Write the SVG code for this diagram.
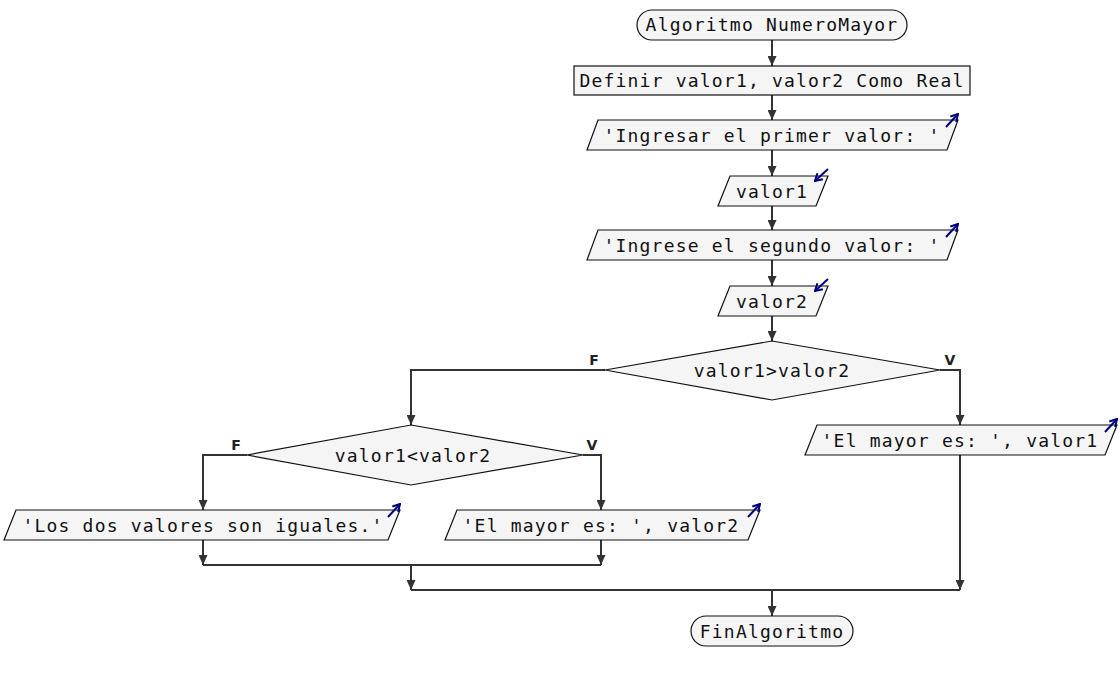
<svg xmlns="http://www.w3.org/2000/svg" width="1120" height="680" viewBox="0 0 1120 680">
<style>
.box{fill:#f5f5f5;stroke:#111;stroke-width:1.2}
.t{font-family:"DejaVu Sans Mono","Liberation Mono",monospace;font-size:18px;letter-spacing:1.2px;fill:#111;text-anchor:middle}
.c{fill:none;stroke:#333;stroke-width:2}
.lbl{font-family:"DejaVu Sans","Liberation Sans",sans-serif;font-size:14px;font-weight:bold;fill:#222;text-anchor:middle}
.ic{fill:none;stroke:#000080;stroke-width:2}
</style>
<defs>
<marker id="ah" markerUnits="userSpaceOnUse" markerWidth="10" markerHeight="9" refX="10" refY="4.5" orient="auto">
<path d="M0,0 L10,4.5 L0,9 z" fill="#333"/>
</marker>
<marker id="ih" markerUnits="userSpaceOnUse" markerWidth="9" markerHeight="10" refX="8" refY="5" orient="auto">
<path d="M1,1 L8,5 L1,9" fill="none" stroke="#000080" stroke-width="2"/>
</marker>
</defs>
<rect width="1120" height="680" fill="#fff"/>
<g id="connectors">
<path class="c" d="M772,40 V66" marker-end="url(#ah)"/>
<path class="c" d="M772,95 V120" marker-end="url(#ah)"/>
<path class="c" d="M772,150 V176" marker-end="url(#ah)"/>
<path class="c" d="M772,206 V230" marker-end="url(#ah)"/>
<path class="c" d="M772,260 V286" marker-end="url(#ah)"/>
<path class="c" d="M772,316 V341" marker-end="url(#ah)"/>
<path class="c" d="M605,370 H411 V425" marker-end="url(#ah)"/>
<path class="c" d="M940,370 H960 V425" marker-end="url(#ah)"/>
<path class="c" d="M247,455 H203 V510" marker-end="url(#ah)"/>
<path class="c" d="M583,455 H601 V510" marker-end="url(#ah)"/>
<path class="c" d="M203,540 V565" marker-end="url(#ah)"/>
<path class="c" d="M601,540 V565" marker-end="url(#ah)"/>
<path class="c" d="M203,565 H601"/>
<path class="c" d="M411,565 V590" marker-end="url(#ah)"/>
<path class="c" d="M960,455 V590" marker-end="url(#ah)"/>
<path class="c" d="M411,590 H960"/>
<path class="c" d="M772,590 V616" marker-end="url(#ah)"/>
<text class="lbl" x="594" y="365">F</text>
<text class="lbl" x="950" y="365">V</text>
<text class="lbl" x="236" y="450">F</text>
<text class="lbl" x="592" y="450">V</text>
</g>
<g id="inicio">
<rect class="box" x="637" y="10" width="270" height="30" rx="15"/>
<text class="t" x="772" y="31">Algoritmo NumeroMayor</text>
</g>
<g id="definir">
<rect class="box" x="574" y="66" width="396" height="29"/>
<text class="t" x="772" y="87">Definir valor1, valor2 Como Real</text>
</g>
<g id="escribir1">
<path class="box" d="M598,120 H958 L947,150 H587 Z"/>
<text class="t" x="772" y="142">'Ingresar el primer valor: '</text>
<path class="ic" d="M946,127 L958,114" marker-end="url(#ih)"/>
</g>
<g id="leer1">
<path class="box" d="M730,176 H828 L816,206 H718 Z"/>
<text class="t" x="772" y="198">valor1</text>
<path class="ic" d="M828,169 L815,181" marker-end="url(#ih)"/>
</g>
<g id="escribir2">
<path class="box" d="M598,230 H958 L947,260 H587 Z"/>
<text class="t" x="772" y="252">'Ingrese el segundo valor: '</text>
<path class="ic" d="M946,237 L958,224" marker-end="url(#ih)"/>
</g>
<g id="leer2">
<path class="box" d="M730,286 H828 L816,316 H718 Z"/>
<text class="t" x="772" y="308">valor2</text>
<path class="ic" d="M828,279 L815,291" marker-end="url(#ih)"/>
</g>
<g id="si1">
<path class="box" d="M772,341 L940,370 L772,400 L605,370 Z"/>
<text class="t" x="772" y="377">valor1&gt;valor2</text>
</g>
<g id="si2">
<path class="box" d="M411,425 L583,455 L411,485 L247,455 Z"/>
<text class="t" x="413" y="462">valor1&lt;valor2</text>
</g>
<g id="escribir_iguales">
<path class="box" d="M16,510 H400 L388,540 H4 Z"/>
<text class="t" x="203" y="532">'Los dos valores son iguales.'</text>
<path class="ic" d="M388,517 L400,504" marker-end="url(#ih)"/>
</g>
<g id="escribir_valor2">
<path class="box" d="M457,510 H760 L748,540 H445 Z"/>
<text class="t" x="601" y="532">'El mayor es: ', valor2</text>
<path class="ic" d="M748,517 L760,504" marker-end="url(#ih)"/>
</g>
<g id="escribir_valor1">
<path class="box" d="M817,425 H1117 L1105,455 H805 Z"/>
<text class="t" x="960" y="447">'El mayor es: ', valor1</text>
<path class="ic" d="M1105,432 L1117,419" marker-end="url(#ih)"/>
</g>
<g id="fin">
<rect class="box" x="691" y="616" width="162" height="30" rx="15"/>
<text class="t" x="772" y="638">FinAlgoritmo</text>
</g>
</svg>
